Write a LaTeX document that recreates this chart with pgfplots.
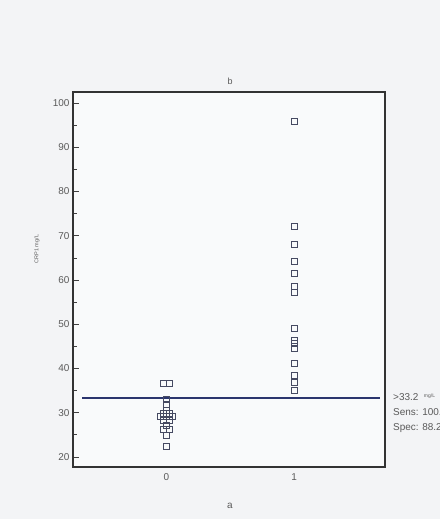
\documentclass[border=0pt]{standalone}
\usepackage{pgfplots}
\pgfplotsset{compat=1.18}
\usepackage{fontspec}
\setmainfont{Liberation Sans}
\definecolor{bg}{HTML}{F3F4F6}
\definecolor{inner}{HTML}{F9FAFB}
\definecolor{mk}{HTML}{464A62}
\definecolor{navy}{HTML}{2B356E}
\definecolor{txt}{HTML}{5A5A5A}
\begin{document}
\begin{tikzpicture}
\fill[bg] (0,0) rectangle (440bp,519bp);
\begin{axis}[
  scale only axis,
  width=312bp, height=375bp,
  at={(73bp,52bp)}, anchor=south west,
  xmin=-0.73, xmax=1.71,
  ymin=17.7, ymax=102.5,
  axis background/.style={fill=inner},
  axis line style={draw=black!80, line width=1.1pt},
  xtick={0,1},
  xtick style={draw=none},
  ytick={20,30,...,100},
  minor ytick={25,35,...,95},
  ytick pos=left,
  tick align=inside,
  ytick style={draw=black!75, line width=0.6pt},
  major tick length=6bp,
  minor tick length=3.5bp,
  tick label style={font=\fontsize{10}{12}\selectfont, text=txt},
  /pgf/number format/assume math mode=true,
  xticklabel style={yshift=-3bp},
  clip=false,
]
\addplot[only marks, mark=square, mark size=3bp, mark options={draw=mk, line width=0.8pt}] coordinates {
(-0.025,36.5) (0.025,36.5)
(0,33.0) (0,31.8) (0,30.6)
(-0.024,29.8) (0.024,29.8)
(-0.047,29.2) (0,29.2) (0.047,29.2)
(-0.024,28.2) (0.024,28.2)
(0,27.1)
(-0.024,26.2) (0.024,26.2)
(0,24.9) (0,22.4)
};
\addplot[only marks, mark=square, mark size=3bp, mark options={draw=mk, line width=0.8pt}] coordinates {
(1,95.8) (1,72.0) (1,68.1) (1,64.1) (1,61.5) (1,58.6) (1,57.1)
(1,49.1) (1,46.4) (1,45.6) (1,44.6) (1,41.2) (1,38.5) (1,36.8) (1,35.1)
};
\addplot[navy, line width=2pt] coordinates {(-0.656,33.2) (1.67,33.2)};
\end{axis}
\node[text=txt, font=\fontsize{9}{11}\selectfont] at (230bp,438bp) {b};
\node[text=txt, font=\fontsize{10}{12}\selectfont] at (230bp,13bp) {a};
\node[text=txt, rotate=90, font=\fontsize{5.5}{6.5}\selectfont] at (37bp,270bp) {CRP1 mg/L};
\node[text=txt, anchor=base west, font=\fontsize{10}{12}\selectfont, inner sep=0pt] at (393bp,118bp) {>33.2\ \ {\fontsize{5}{6}\selectfont\raisebox{3bp}{mg/L}}};
\node[text=txt, anchor=base west, font=\fontsize{10}{12}\selectfont, inner sep=0pt] at (393bp,103bp) {Sens: 100.0};
\node[text=txt, anchor=base west, font=\fontsize{10}{12}\selectfont, inner sep=0pt] at (393bp,88bp) {Spec: 88.2};
\pgfresetboundingbox
\path[use as bounding box] (0,0) rectangle (440bp,519bp);
\end{tikzpicture}
\end{document}
